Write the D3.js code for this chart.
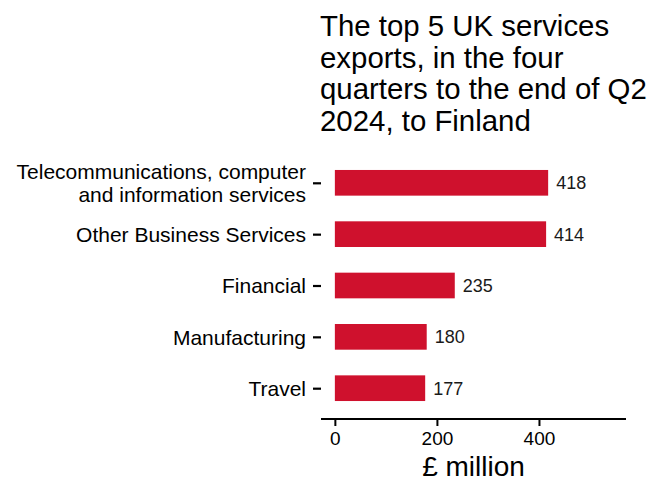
<!DOCTYPE html>
<html lang="en">
<head>
    <meta charset="UTF-8">
    <title>Top 5 UK services exports to Finland</title>
    <style>
        html, body {
            margin: 0;
            padding: 0;
            background-color: #FFFFFF;
            font-family: 'Liberation Sans', Arial, sans-serif;
        }
        svg text { fill: #000000; }
    </style>
</head>
<body>
    <div id="chart"></div>
    <script src="https://d3js.org/d3.v7.min.js"></script>
    <script>
        // DATA
        const categories = [
            "Telecommunications, computer\nand information services",
            "Other Business Services",
            "Financial",
            "Manufacturing",
            "Travel"
        ];
        const values = [418, 414, 235, 180, 177];
        const xTicks = [0, 200, 400];
        const titleLines = [
            "The top 5 UK services",
            "exports, in the four",
            "quarters to the end of Q2",
            "2024, to Finland"
        ];

        const width = 648, height = 482;
        const panel = {left: 321, right: 626, top: 152, bottom: 419};

        const svg = d3.select("#chart")
            .append("svg")
            .attr("width", width)
            .attr("height", height);

        // SCALES
        const maxVal = d3.max(values) * 1.3;
        const x = d3.scaleLinear()
            .domain([-0.05 * maxVal, maxVal * 1.05])
            .range([panel.left, panel.right]);

        const y = d3.scalePoint()
            .domain(categories)
            .range([panel.top, panel.bottom])
            .padding(0.6);
        const barH = y.step() * 0.5;

        // TITLE
        svg.append("text")
            .attr("x", 320)
            .attr("y", 36)
            .style("font-size", "29.4px")
            .selectAll("tspan")
            .data(titleLines).enter()
            .append("tspan")
            .attr("x", 320)
            .attr("dy", (d, i) => i === 0 ? 0 : 31.7)
            .text(d => d);

        // BARS
        svg.selectAll("rect.bar")
            .data(values).enter()
            .append("rect")
            .attr("class", "bar")
            .attr("x", x(0))
            .attr("y", (d, i) => y(categories[i]) - barH / 2)
            .attr("width", d => x(d) - x(0))
            .attr("height", barH)
            .style("fill", "#CF112D");

        // VALUE LABELS
        svg.selectAll("text.value")
            .data(values).enter()
            .append("text")
            .attr("class", "value")
            .attr("x", d => x(d) + 8)
            .attr("y", (d, i) => y(categories[i]))
            .attr("dy", "0.36em")
            .style("font-size", "18px")
            .style("fill", "#1a1a1a")
            .text(d => d);

        // X AXIS
        const xAxis = svg.append("g")
            .attr("transform", `translate(0, ${panel.bottom})`)
            .call(d3.axisBottom(x).tickValues(xTicks).tickSize(7).tickPadding(6));
        xAxis.select(".domain")
            .attr("d", `M${panel.left},0H${panel.right}`)
            .attr("stroke", "#000")
            .attr("stroke-width", 2.2);
        xAxis.selectAll(".tick line").attr("stroke", "#000").attr("stroke-width", 2);
        xAxis.selectAll(".tick text")
            .style("font-size", "19px")
            .style("font-family", "'Liberation Sans', Arial, sans-serif");

        // Y AXIS
        const yAxis = svg.append("g")
            .attr("transform", `translate(${panel.left}, 0)`)
            .call(d3.axisLeft(y).tickSize(8).tickPadding(8));
        yAxis.select(".domain").remove();
        yAxis.selectAll(".tick line").attr("stroke", "#000").attr("stroke-width", 2.2);
        yAxis.selectAll(".tick text")
            .style("font-size", "21px")
            .style("font-family", "'Liberation Sans', Arial, sans-serif")
            .attr("dy", null)
            .text(null)
            .each(function(d) {
                const lines = d.split("\n");
                const t = d3.select(this);
                lines.forEach((ln, i) => {
                    t.append("tspan")
                        .attr("x", -15)
                        .attr("dy", i === 0 ? (lines.length > 1 ? "-0.22em" : "0.35em") : "1.1em")
                        .text(ln);
                });
            });

        // X AXIS TITLE
        svg.append("text")
            .attr("x", (panel.left + panel.right) / 2)
            .attr("y", 476)
            .attr("text-anchor", "middle")
            .style("font-size", "28px")
            .text("£ million");
    </script>
</body>
</html>
